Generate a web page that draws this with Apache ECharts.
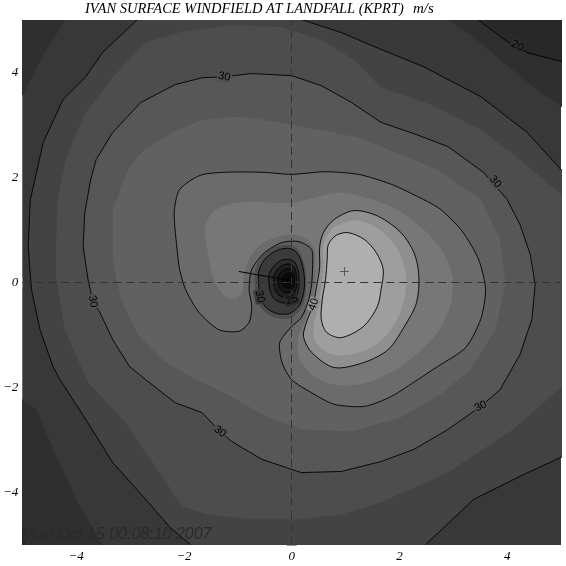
<!DOCTYPE html>
<html><head><meta charset="utf-8">
<script src="https://cdn.jsdelivr.net/npm/echarts@6/dist/echarts.min.js"></script>
<style>html,body{margin:0;padding:0;background:#fff}#c{width:566px;height:566px}</style>
</head><body><div id="c"></div>
<script>
// ---------- tick labels ----------
const xTickValues = [-4, -2, 0, 2, 4];
const xTickLabels = ['\u22124', '\u22122', '0', '2', '4'];
const yTickValues = [-4, -2, 0, 2, 4];
const yTickLabels = ['\u22124', '\u22122', '0', '2', '4'];

// ---------- contour polygons (data units) ----------
const below22TL = [[-5.3,5.3],[-4.06,5.2],[-4.19,5.01],[-4.61,4.34],[-4.98,3.58],[-5.17,3.39],[-5.3,3.3]];
const below22BL = [[-5.3,-2.0],[-4.74,-2.42],[-4.37,-3.31],[-3.93,-4.27],[-3.51,-4.99],[-3.41,-5.3],[-5.3,-5.3]];
const below22TR = [[2.58,5.3],[2.77,5.10],[3.32,4.72],[3.87,4.25],[4.43,3.77],[5.07,3.30],[5.3,3.15],[5.3,5.3]];
const below20BL = [[-5.3,-4.2],[-5.04,-4.42],[-4.91,-5.05],[-4.85,-5.3],[-5.3,-5.3]];
const contour20 = [[3.20,5.30],[3.45,5.01],[4.00,4.59],[4.37,4.38],[5.00,4.21],[5.30,4.13],[5.30,5.30]];
const contour25 = [[-2.99,5.3],[-2.86,5.01],[-3.51,4.38],[-3.82,3.92],[-4.24,3.49],[-4.61,2.67],[-4.85,1.58],[-4.89,0.69],[-4.83,-0.13],[-4.67,-0.90],[-4.43,-1.60],[-4.30,-1.85],[-3.82,-2.61],[-3.32,-3.43],[-2.71,-4.13],[-2.27,-4.65],[-1.88,-4.99],[-1.66,-5.3],[2.40,-5.3],[2.49,-4.99],[3.38,-4.13],[4.30,-3.66],[5.00,-3.33],[5.3,-3.22],[5.3,2.06],[5.00,2.15],[4.37,2.86],[3.51,3.54],[2.45,4.11],[1.66,4.44],[0.92,4.76],[0.18,5.01],[0,5.3]];
const contour27 = [[-2.71,4.57],[-2.03,4.78],[-1.11,4.90],[-0.18,4.86],[0.55,4.63],[1.20,4.21],[1.66,3.71],[2.58,3.39],[3.51,2.91],[4.24,2.34],[5.00,1.68],[5.35,1.49],[5.35,-1.75],[5.00,-2.00],[4.11,-2.80],[2.90,-3.62],[1.66,-4.19],[0.92,-4.42],[0.18,-4.51],[-0.74,-4.51],[-1.57,-4.42],[-2.03,-4.27],[-2.53,-3.50],[-3.08,-2.67],[-3.78,-1.90],[-4.21,-0.90],[-4.37,0.06],[-4.37,0.82],[-4.34,1.58],[-4.19,2.34],[-3.87,3.16],[-3.32,3.92]];
const contour30 = [[-1.66,3.90],[-1.25,3.92],[-0.74,3.98],[0,3.94],[0.55,3.75],[1.11,3.43],[1.66,3.05],[2.31,2.82],[2.90,2.59],[3.56,2.10],[4.00,1.58],[4.24,1.10],[4.43,0.53],[4.52,-0.04],[4.46,-0.70],[4.24,-1.37],[3.87,-2.04],[3.51,-2.36],[2.90,-2.80],[2.27,-3.18],[1.66,-3.41],[0.92,-3.60],[0.18,-3.62],[-0.55,-3.37],[-1.11,-3.03],[-1.33,-2.84],[-1.66,-2.48],[-2.16,-2.29],[-2.71,-1.85],[-3.01,-1.60],[-3.32,-1.09],[-3.56,-0.57],[-3.69,-0.36],[-3.78,0.06],[-3.87,0.69],[-3.84,1.33],[-3.73,1.96],[-3.63,2.34],[-3.32,2.86],[-2.80,3.43],[-2.16,3.77]];
const contour32 = [[-3.04,2.15],[-2.77,2.50],[-2.21,2.86],[-1.66,3.10],[-0.92,3.16],[0,3.01],[1.24,2.76],[2.71,2.15],[3.51,1.58],[3.87,0.82],[3.97,-0.04],[3.78,-0.90],[3.32,-1.66],[2.77,-2.13],[2.03,-2.57],[1.11,-2.84],[0.18,-2.80],[-0.55,-2.51],[-1.20,-2.13],[-1.85,-1.81],[-2.40,-1.47],[-2.86,-0.99],[-3.17,-0.32],[-3.32,0.44],[-3.32,1.39]];
const contour35 = [[-2.08,1.77],[-1.70,2.04],[-1.24,2.10],[-0.55,2.10],[0,2.06],[0.61,2.11],[1.24,2.06],[1.85,1.87],[2.45,1.58],[2.77,1.39],[3.17,0.97],[3.47,0.44],[3.60,-0.13],[3.51,-0.70],[3.23,-1.24],[2.71,-1.60],[2.34,-1.85],[1.85,-2.17],[1.35,-2.36],[0.79,-2.32],[0.37,-2.10],[0,-1.85],[-0.18,-1.52],[-0.22,-1.14],[0,-0.84],[0.18,-0.67],[0.31,-0.36],[0.37,-0.04],[0.39,0.34],[0.37,0.63],[0.13,0.78],[-0.18,0.76],[-0.50,0.57],[-0.74,0.25],[-0.79,-0.13],[-0.74,-0.46],[-0.79,-0.76],[-0.98,-0.93],[-1.35,-0.90],[-1.72,-0.57],[-1.97,-0.13],[-2.08,0.25],[-2.12,0.57],[-2.18,1.33]];
const contour37 = [[-1.61,1.01],[-1.48,1.33],[-1.16,1.49],[-0.74,1.54],[0,1.52],[0.92,1.71],[1.85,1.45],[2.45,1.01],[2.80,0.59],[2.99,0.10],[2.95,-0.42],[2.71,-0.95],[2.31,-1.37],[1.85,-1.71],[1.29,-1.94],[0.74,-1.94],[0.37,-1.75],[0.15,-1.47],[0.11,-1.09],[0.24,-0.74],[0.35,-0.40],[0.42,-0.06],[0.44,0.32],[0.42,0.63],[0.30,0.82],[0.11,0.90],[-0.15,0.90],[-0.41,0.82],[-0.63,0.67],[-0.79,0.44],[-0.89,0.15],[-0.90,-0.13],[-1.00,-0.29],[-1.20,-0.29],[-1.42,0],[-1.53,0.44]];
const contour40 = [[0.52,0.67],[0.59,0.95],[0.79,1.20],[1.16,1.37],[1.61,1.26],[2.03,0.95],[2.27,0.57],[2.36,0.15],[2.32,-0.38],[2.08,-0.86],[1.79,-1.28],[1.35,-1.52],[0.79,-1.62],[0.37,-1.33],[0.22,-1.03],[0.28,-0.74],[0.39,-0.46],[0.46,-0.10],[0.52,0.29]];
const contour42 = [[0.59,0.72],[0.74,1.01],[0.92,1.12],[1.24,1.18],[1.66,0.99],[1.97,0.63],[2.12,0.15],[2.08,-0.38],[1.88,-0.84],[1.57,-1.18],[1.11,-1.37],[0.70,-1.35],[0.44,-1.12],[0.41,-0.86],[0.48,-0.48],[0.55,-0.10],[0.59,0.34]];
const contour45 = [[0.68,0.72],[0.83,0.90],[1.05,0.95],[1.35,0.82],[1.57,0.57],[1.70,0.25],[1.66,-0.13],[1.59,-0.46],[1.33,-0.84],[0.92,-1.05],[0.65,-0.95],[0.55,-0.70],[0.57,-0.32],[0.63,0.06],[0.66,0.44]];
// eye rings
const eye32 = [[0.27,0.04],[0.23,0.37],[0.13,0.61],[-0.04,0.72],[-0.31,0.68],[-0.56,0.49],[-0.68,0.23],[-0.68,-0.05],[-0.66,-0.30],[-0.53,-0.53],[-0.31,-0.67],[-0.04,-0.68],[0.16,-0.52],[0.25,-0.25]];
const eye30 = [[0.24,0.04],[0.20,0.33],[0.11,0.55],[-0.04,0.65],[-0.28,0.61],[-0.50,0.44],[-0.61,0.21],[-0.61,-0.04],[-0.59,-0.26],[-0.48,-0.47],[-0.28,-0.59],[-0.04,-0.59],[0.14,-0.44],[0.22,-0.21]];
const eye25 = [[0.14,0.04],[0.12,0.23],[0.06,0.38],[-0.04,0.44],[-0.20,0.42],[-0.34,0.30],[-0.42,0.15],[-0.42,-0.01],[-0.40,-0.16],[-0.33,-0.30],[-0.20,-0.38],[-0.04,-0.38],[0.08,-0.28],[0.13,-0.13]];
const eye20 = [[0.10,0.04],[0.08,0.19],[0.04,0.30],[-0.04,0.35],[-0.16,0.33],[-0.27,0.24],[-0.33,0.13],[-0.33,0.00],[-0.32,-0.11],[-0.26,-0.22],[-0.16,-0.28],[-0.04,-0.28],[0.05,-0.20],[0.09,-0.09]];
const eye15 = [[0.06,0.04],[0.05,0.14],[0.01,0.22],[-0.04,0.26],[-0.13,0.25],[-0.21,0.18],[-0.25,0.10],[-0.25,0.01],[-0.24,-0.07],[-0.20,-0.14],[-0.13,-0.19],[-0.04,-0.19],[0.02,-0.13],[0.05,-0.05]];
const eye10 = [[0.02,0.04],[0.02,0.11],[-0.01,0.16],[-0.04,0.18],[-0.10,0.17],[-0.15,0.13],[-0.17,0.08],[-0.17,0.02],[-0.17,-0.03],[-0.14,-0.08],[-0.10,-0.10],[-0.04,-0.10],[0.00,-0.07],[0.02,-0.02]];
const eye05 = [[-0.01,0.04],[-0.01,0.07],[-0.02,0.10],[-0.04,0.11],[-0.07,0.10],[-0.09,0.08],[-0.10,0.06],[-0.10,0.03],[-0.10,0.01],[-0.09,-0.02],[-0.07,-0.03],[-0.04,-0.03],[-0.02,-0.01],[-0.01,0.01]];
// storm line, max marker, contour labels
const stormLine = [[-0.98,0.21],[-0.04,0.04]];
const maxMarker = [[0.98,0.21]];
const labelPos = [[4.19,4.51],[-1.25,3.92],[3.78,1.92],[3.51,-2.36],[-1.33,-2.84],[-3.69,-0.36],[-0.59,-0.27],[0.0,-0.33],[0.41,-0.42]];
const labelText = ['20','30','30','30','30','30','30','25','40'];

// ---------- styles ----------
const labelRot = [-29,-10,-50,25,-38,-80,-78,20,70];
const labelBg = ['#2f2f2f','#515151','#515151','#515151','#515151','#515151','#3b3b3b','#2c2c2c','#8f8f8f'];

const fills = [
  [below22TL, '#2f2f2f', 0],
  [below22BL, '#2f2f2f', 0],
  [below22TR, '#2f2f2f', 0],
  [below20BL, '#282828', 0],
  [contour20, '#282828', 0],
  [contour25, '#434343', 0],
  [contour27, '#4d4d4d', 0],
  [contour30, '#575757', 0],
  [contour32, '#616161', 0],
  [contour35, '#6b6b6b', 0.25],
  [contour37, '#777777', 0.25],
  [contour40, '#8f8f8f', 0.3],
  [contour42, '#9e9e9e', 0.3],
  [contour45, '#afafaf', 0.3],
  [eye32, '#4e4e4e', 0.3],
  [eye30, '#3b3b3b', 0.3],
  [eye25, '#2c2c2c', 0.3],
  [eye20, '#1e1e1e', 0.3],
  [eye15, '#141414', 0.3],
  [eye10, '#0c0c0c', 0.3],
  [eye05, '#060606', 0.3]
];
const lines = [
  [contour20, 0], [contour25, 0], [contour30, 0], [contour35, 0.25], [contour40, 0.3], [contour45, 0.3],
  [eye30, 0.3], [eye25, 0.3], [eye20, 0.3], [eye15, 0.3], [eye10, 0.3], [eye05, 0.3]
];

function polySeries(pts, fill, stroke, smooth, z) {
  return {
    type: 'custom', coordinateSystem: 'cartesian2d', clip: true, silent: true, z: z,
    data: [[0, 0]],
    renderItem: function (params, api) {
      const points = pts.map(function (p) { return api.coord(p); });
      return {
        type: 'polygon',
        shape: { points: points, smooth: smooth || 0 },
        style: { fill: fill || 'none', stroke: stroke || 'none', lineWidth: stroke ? 0.9 : 0 }
      };
    }
  };
}

const series = [];
fills.forEach(function (f) { series.push(polySeries(f[0], f[1], null, f[2], 1)); });
lines.forEach(function (l) { series.push(polySeries(l[0], null, '#000', l[1], 2)); });

series.push({
  type: 'line', data: stormLine, showSymbol: false, silent: true, z: 3,
  lineStyle: { color: '#000', width: 1 },
  markLine: {
    silent: true, symbol: 'none', label: { show: false }, animation: false,
    lineStyle: { color: '#333', width: 1, type: [8, 5] },
    data: [{ xAxis: 0 }, { yAxis: 0 }]
  }
});
series.push({
  type: 'scatter', data: maxMarker, silent: true, z: 4,
  symbol: 'path://M-0.08,-1H0.08V1H-0.08Z M-1,-0.08H1V0.08H-1Z', symbolSize: 9,
  itemStyle: { color: '#222' }
});
series.push({
  type: 'custom', coordinateSystem: 'cartesian2d', silent: true, z: 5,
  data: labelPos,
  renderItem: function (params, api) {
    const i = params.dataIndex;
    const p = api.coord([api.value(0), api.value(1)]);
    return {
      type: 'text', x: p[0], y: p[1], rotation: labelRot[i] * Math.PI / 180,
      style: {
        text: labelText[i], fontSize: 11, fontFamily: 'Liberation Sans', fill: '#000',
        align: 'center', verticalAlign: 'middle', backgroundColor: labelBg[i], padding: [0, 1]
      }
    };
  }
});

function xfmt(v) { const i = xTickValues.indexOf(v); return i >= 0 ? xTickLabels[i] : ''; }
function yfmt(v) { const i = yTickValues.indexOf(v); return i >= 0 ? yTickLabels[i] : ''; }
const tickStyle = { inside: true, length: 5, lineStyle: { color: '#999', width: 1 } };
const minorStyle = { show: true, splitNumber: 2, length: 5, lineStyle: { color: '#999', width: 1 } };
const labelFont = { fontFamily: 'Liberation Serif', fontStyle: 'italic', fontSize: 13, color: '#000' };

const option = {
  animation: false,
  backgroundColor: '#fff',
  grid: { left: 19, right: 5, top: 20, bottom: 21, show: true, backgroundColor: '#383838', borderWidth: 0 },
  xAxis: [
    { type: 'value', min: -5, max: 5, interval: 1, position: 'bottom', axisLine: { show: false }, splitLine: { show: false },
      axisTick: tickStyle, minorTick: minorStyle, axisLabel: Object.assign({ formatter: xfmt, margin: 5 }, labelFont) },
    { type: 'value', min: -5, max: 5, interval: 1, position: 'top', axisLine: { show: false }, splitLine: { show: false },
      axisTick: tickStyle, minorTick: minorStyle, axisLabel: { show: false } }
  ],
  yAxis: [
    { type: 'value', min: -5, max: 5, interval: 1, position: 'left', axisLine: { show: false }, splitLine: { show: false },
      axisTick: tickStyle, minorTick: minorStyle, axisLabel: Object.assign({ formatter: yfmt, margin: 4 }, labelFont) },
    { type: 'value', min: -5, max: 5, interval: 1, position: 'right', axisLine: { show: false }, splitLine: { show: false },
      axisTick: tickStyle, minorTick: minorStyle, axisLabel: { show: false } }
  ],
  graphic: [
    { type: 'text', left: 85, top: 2, z: 10, style: { text: 'IVAN SURFACE WINDFIELD AT LANDFALL (KPRT)', font: 'italic 14.5px "Liberation Serif"', fill: '#000' } },
    { type: 'text', left: 413, top: 2, z: 10, style: { text: 'm/s', font: 'italic 15px "Liberation Serif"', fill: '#000' } },
    { type: 'text', left: 22, top: 527, z: 10, style: { text: 'Mon Oct 15 00:08:10 2007', font: 'italic 16px "Liberation Sans"', fill: '#2a2a2a' } }
  ],
  series: series
};
const chart = echarts.init(document.getElementById('c'));
chart.setOption(option);
</script></body></html>
